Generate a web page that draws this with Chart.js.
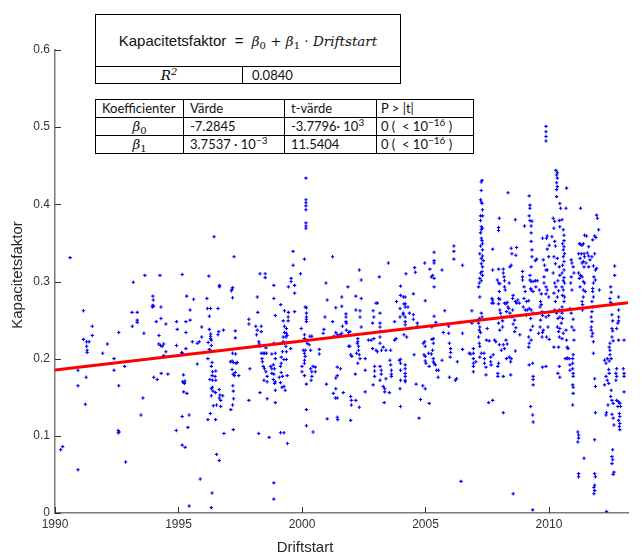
<!DOCTYPE html>
<html>
<head>
<meta charset="utf-8">
<script src="https://cdn.jsdelivr.net/npm/chart.js@4.4.1/dist/chart.umd.min.js"></script>
<style>
  body { margin: 0; background: #fff; }
  #wrap { position: relative; width: 642px; height: 556px; }
  #chart { position: absolute; left: 0; top: 0; }
  .box { position: absolute; background: #fff; border: 1px solid #000; box-sizing: border-box; }
  #eq { left: 95px; top: 14px; width: 306px; height: 70px; }
  #eq .top { height: 51px; display: flex; align-items: center; justify-content: center;
             font: 15px "Liberation Sans", Arial, sans-serif; color: #111; }
  #eq .bot { height: 17px; border-top: 1px solid #000; display: flex; }
  #eq .bot div { height: 17px; line-height: 17px; }
  .m { font-family: "DejaVu Serif", serif; font-style: italic; font-size: 13.5px; }
  .m sub { font-style: normal; font-size: 10px; vertical-align: -3px; line-height: 0; }
  .up { font-style: normal; }
  .cal { font: 13px Lato, "Open Sans", sans-serif; color: #111; }
  sup { font-size: 10px; vertical-align: 5px; line-height: 0; }
  #coef { position: absolute; left: 95px; top: 99px; border-collapse: collapse; background: #fff; }
  #coef td { border: 1px solid #000; height: 17px; padding: 0 0 0 6px; white-space: nowrap;
             font: 13px Lato, "Open Sans", sans-serif; color: #111; line-height: 17px; }
  #coef td.c { text-align: center; padding: 0; }
</style>
</head>
<body>
<div id="wrap">
  <canvas id="chart" width="642" height="556"></canvas>
  <div id="eq" class="box">
    <div class="top">Kapacitetsfaktor&nbsp;&nbsp;=&nbsp;&nbsp;<span class="m">β<sub>0</sub> <span class="up">+</span> β<sub>1</sub> <span class="up">·</span> Driftstart</span></div>
    <div class="bot">
      <div style="width:146px;border-right:1px solid #000;text-align:center" class="m">R<sup>2</sup></div>
      <div style="padding-left:9px" class="cal">0.0840</div>
    </div>
  </div>
  <table id="coef">
    <tr><td style="width:81px">Koefficienter</td><td style="width:94px">Värde</td><td style="width:85px">t-värde</td><td style="width:92px;padding-left:4px">P &gt; |t|</td></tr>
    <tr><td class="c"><span class="m">β<sub>0</sub></span></td><td>-7.2845</td><td>-3.7796· 10<sup>3</sup></td><td style="padding-left:4px">0 ( &nbsp;&lt; 10<sup>−16</sup> )</td></tr>
    <tr><td class="c"><span class="m">β<sub>1</sub></span></td><td>3.7537 · 10<sup>−3</sup></td><td>11.5404</td><td style="padding-left:4px">0 ( &nbsp;&lt; 10<sup>−16</sup> )</td></tr>
  </table>
</div>
<script>
// axis ticks
const xTicks = [1990, 1995, 2000, 2005, 2010];
const yTicks = [0, 0.1, 0.2, 0.3, 0.4, 0.5, 0.6];

// fitted line (ends of the red line)
const fitX = [1990, 2013.2];
const fitY = [0.1854, 0.2725];

// [Driftstart, Kapacitetsfaktor]
const early = [
  [1990.61,0.331],[1990.23,0.082],[1990.31,0.086],[1990.93,0.056],[1990.93,0.165],[1990.93,0.185],
  [1991.15,0.262],[1991.15,0.225],[1991.28,0.222],[1991.28,0.216],[1991.3,0.211],[1991.3,0.208],[1991.38,0.222],
  [1991.23,0.141],[1991.26,0.176],[1991.26,0.19],[1991.51,0.242],[1991.51,0.23],[1991.93,0.207],[1992.12,0.219],
  [1992.39,0.2],[1992.39,0.185],[1992.58,0.234],[1992.58,0.165],[1992.56,0.107],[1992.56,0.104],[1992.6,0.105],
  [1992.82,0.19],[1992.86,0.066],[1993.17,0.299],[1993.13,0.242],[1993.12,0.26],[1993.33,0.26],[1993.33,0.25],[1993.33,0.247],
  [1993.64,0.308],[1993.6,0.233],[1993.56,0.149],[1993.48,0.127],
  [1993.96,0.281],[1993.98,0.276],[1993.96,0.269],[1993.94,0.267],[1993.99,0.268],
  [1994.25,0.308],[1994.29,0.267],[1994.29,0.252],[1994.1,0.248],[1994.21,0.23],
  [1994.2,0.219],[1994.27,0.217],[1994.4,0.219],[1994.34,0.216],[1994.49,0.245],[1994.49,0.209],[1994.4,0.204],
  [1994.0,0.176],[1994.14,0.173],[1994.3,0.181],[1994.57,0.18],
  [1995.15,0.309],[1994.92,0.248],[1995.3,0.248],[1994.95,0.238],[1995.33,0.281],[1995.47,0.263],[1995.47,0.25],[1995.61,0.277],
  [1995.3,0.234],[1994.92,0.217],[1995.13,0.208],[1995.15,0.207],[1995.17,0.206],[1995.3,0.213],[1995.56,0.222],[1995.76,0.22],[1995.84,0.222],
  [1995.94,0.241],[1995.94,0.228],[1995.76,0.193],[1995.2,0.179],[1995.17,0.17],[1995.22,0.169],[1995.26,0.171],[1995.24,0.168],
  [1995.21,0.157],[1995.34,0.155],[1995.15,0.125],[1995.43,0.127],[1995.38,0.111],[1994.91,0.107],[1995.15,0.088],[1995.27,0.085],
  [1995.88,0.044],[1995.43,0.009],
  [1996.44,0.358],[1996.23,0.307],[1996.15,0.278],[1996.17,0.265],[1996.3,0.265],[1996.6,0.265],[1996.25,0.255],[1996.66,0.295],[1996.66,0.293],
  [1996.25,0.238],[1996.3,0.232],[1996.3,0.229],[1996.3,0.226],[1996.33,0.224],[1996.63,0.235],[1996.82,0.237],[1996.6,0.231],
  [1996.2,0.221],[1996.33,0.217],[1996.25,0.212],[1996.31,0.21],[1996.19,0.2],[1996.36,0.195],
  [1996.33,0.19],[1996.38,0.183],[1996.51,0.184],[1996.36,0.178],[1996.38,0.172],[1996.51,0.172],[1996.27,0.173],[1996.48,0.177],
  [1996.37,0.163],[1996.33,0.161],[1996.4,0.158],[1996.33,0.152],[1996.5,0.156],[1996.65,0.16],[1996.68,0.153],[1996.65,0.149],[1996.71,0.146],[1996.79,0.152],
  [1996.41,0.139],[1996.54,0.14],[1996.71,0.138],[1996.29,0.129],[1996.19,0.121],[1996.5,0.121],[1996.84,0.103],[1996.54,0.076],[1996.65,0.068],[1996.36,0.026],[1996.33,0.007],
  [1997.25,0.332],[1997.19,0.292],[1997.14,0.288],[1997.17,0.29],[1997.19,0.279],[1997.3,0.236],[1997.3,0.227],[1997.19,0.207],[1997.31,0.206],
  [1997.17,0.197],[1997.22,0.195],[1997.33,0.194],[1997.1,0.196],[1997.38,0.195],
  [1997.17,0.186],[1997.22,0.18],[1997.3,0.182],[1997.26,0.178],[1997.44,0.178],
  [1997.2,0.165],[1997.22,0.158],[1997.23,0.148],[1997.19,0.14],[1997.12,0.134],[1997.22,0.108],
  [1997.85,0.251],[1997.85,0.245],[1997.89,0.187],[1997.85,0.146]
];

const middle = [
  [1998.19,0.28],[1998.21,0.26],[1998.13,0.242],[1998.35,0.242],[1998.19,0.237],[1998.35,0.235],[1998.16,0.231],
  [1998.25,0.222],[1998.27,0.219],[1998.3,0.216],[1998.35,0.207],[1998.43,0.207],[1998.48,0.207],
  [1998.38,0.2],[1998.4,0.196],[1998.43,0.19],[1998.56,0.207],[1998.48,0.187],[1998.54,0.183],[1998.46,0.172],
  [1998.3,0.31],[1998.51,0.31],[1998.51,0.305],[1998.54,0.214],[1998.3,0.156],[1998.59,0.177],[1998.59,0.17],[1998.59,0.148],
  [1998.25,0.103],[1998.67,0.098],
  [1998.86,0.295],[1998.86,0.278],[1998.92,0.256],[1998.86,0.22],[1998.78,0.206],[1998.92,0.207],[1998.92,0.2],
  [1998.73,0.19],[1998.78,0.187],[1998.84,0.192],[1998.89,0.187],
  [1998.78,0.181],[1998.86,0.18],[1998.84,0.173],[1998.92,0.17],[1998.89,0.168],[1998.92,0.159],[1998.92,0.143],
  [1998.86,0.039],[1998.86,0.018],
  [1999.14,0.27],[1999.29,0.262],[1999.45,0.26],[1999.44,0.254],[1999.44,0.249],[1999.24,0.249],
  [1999.29,0.242],[1999.37,0.239],[1999.29,0.234],[1999.37,0.233],[1999.24,0.228],[1999.35,0.228],[1999.4,0.23],
  [1999.24,0.222],[1999.29,0.22],[1999.37,0.221],[1999.35,0.216],[1999.37,0.209],[1999.21,0.209],[1999.54,0.213],
  [1999.16,0.202],[1999.27,0.199],[1999.37,0.199],[1999.16,0.194],[1999.13,0.19],[1999.16,0.182],
  [1999.08,0.176],[1999.21,0.177],[1999.13,0.169],[1999.27,0.164],[1999.19,0.163],[1999.32,0.159],[1999.4,0.178],
  [1999.13,0.104],[1999.27,0.104],[1999.41,0.09],
  [1999.45,0.293],[1999.56,0.304],[1999.56,0.3],[1999.64,0.339],[1999.64,0.321],[1999.7,0.295],[1999.7,0.285],[1999.7,0.261],
  [1999.94,0.31],[1999.97,0.239],[2000.1,0.329],
  [2000.16,0.434],[2000.16,0.406],[2000.16,0.402],[2000.16,0.398],[2000.16,0.393],[2000.16,0.376],[2000.16,0.372],[2000.16,0.369],
  [2000.13,0.267],[2000.18,0.266],[2000.18,0.259],[2000.18,0.254],[2000.18,0.251],[2000.18,0.248],
  [2000.1,0.231],[2000.1,0.226],[2000.18,0.224],[2000.21,0.22],[2000.05,0.211],
  [2000.13,0.211],[2000.1,0.207],[2000.13,0.203],[2000.1,0.198],[2000.1,0.194],
  [2000.0,0.19],[2000.0,0.183],[2000.1,0.178],[2000.18,0.167],[2000.18,0.134],[2000.18,0.113],
  [2000.32,0.229],[2000.4,0.229],[2000.29,0.218],[2000.35,0.211],
  [2000.35,0.187],[2000.4,0.183],[2000.4,0.177],[2000.45,0.19],[2000.54,0.189],[2000.54,0.183],[2000.37,0.172],
  [2000.45,0.105],[2000.7,0.212],[2000.7,0.206],[2000.86,0.233],[2000.89,0.238],[2000.93,0.254],[2000.97,0.298],[2001.02,0.276],[2000.99,0.167],[2001.02,0.122],
  [2001.24,0.332],[2001.24,0.248],[2001.29,0.229],[2001.37,0.234],[2001.43,0.231],[2001.54,0.231],[2001.37,0.266],
  [2001.43,0.189],[2001.43,0.178],[2001.56,0.187],[2001.37,0.175],[2001.27,0.155],[2001.35,0.149],[2001.43,0.149],[2001.37,0.161],
  [2001.43,0.124],[2001.45,0.121],
  [2001.61,0.28],[2001.61,0.268],[2001.64,0.242],[2001.61,0.233],[2001.67,0.156],
  [2001.78,0.258],[2001.78,0.254],[2001.78,0.248],[2001.8,0.246],[2001.8,0.237],[2001.89,0.234],[2001.94,0.235],
  [2001.86,0.293],[2001.89,0.216],[2001.94,0.216],[2001.97,0.205],[2002.02,0.203],
  [2001.97,0.151],[2002.0,0.146],[2002.0,0.14],[2001.97,0.12],
  [2002.16,0.18],[2002.18,0.146],[2002.18,0.281],[2002.18,0.263],[2002.24,0.22],
  [2002.26,0.226],[2002.26,0.222],[2002.29,0.216],[2002.29,0.211],[2002.21,0.207],[2002.32,0.205],[2002.35,0.2],[2002.26,0.194],
  [2002.32,0.315],[2002.4,0.302],[2002.4,0.278],[2002.35,0.262],[2002.35,0.254],[2002.4,0.241],[2002.32,0.137],
  [2002.56,0.2],[2002.56,0.185],[2002.56,0.157],[2002.69,0.224],[2002.8,0.224],
  [2002.88,0.262],[2002.91,0.254],[2002.86,0.246],[2002.91,0.226],[2002.86,0.213],[2003.0,0.211],[2003.05,0.209],
  [2003.0,0.272],[2003.05,0.272],[2002.94,0.19],[2002.94,0.184],[2002.94,0.177],[2002.88,0.166],[2003.13,0.306],
  [2003.5,0.324],[2003.16,0.259],[2003.16,0.246],[2003.16,0.241],[2003.16,0.235],[2003.16,0.228],[2003.16,0.22],
  [2003.22,0.211],[2003.29,0.215],[2003.4,0.211],[2003.59,0.211],
  [2003.16,0.19],[2003.21,0.185],[2003.21,0.18],[2003.16,0.172],[2003.4,0.174],
  [2003.29,0.164],[2003.35,0.161],[2003.35,0.157],[2003.54,0.156],[2003.33,0.143],
  [2003.56,0.198],[2003.59,0.192],[2003.62,0.185],[2003.62,0.18],[2003.62,0.177],
  [2003.75,0.248],[2003.83,0.274],[2003.81,0.226],[2003.75,0.224],
  [2003.94,0.198],[2003.99,0.199],[2003.99,0.194],[2003.99,0.185],[2003.97,0.161],[2003.99,0.138],
  [2003.99,0.294],[2003.99,0.282],[2004.1,0.28],[2004.18,0.28],
  [2003.97,0.265],[2004.1,0.259],[2004.13,0.271],[2004.18,0.271],[2004.18,0.267],
  [2003.97,0.254],[2004.1,0.257],[2004.18,0.254],[2004.18,0.248],[2004.18,0.244],[2004.13,0.231],[2004.24,0.228],
  [2004.18,0.192],[2004.18,0.187],[2004.18,0.181],[2004.18,0.177],[2004.18,0.172],[2004.18,0.17],[2003.99,0.172],
  [2004.21,0.31],[2004.35,0.259],[2004.29,0.267],[2004.51,0.284],[2004.51,0.257],[2004.51,0.251],[2004.54,0.205],
  [2004.56,0.318],[2004.59,0.312],[2004.67,0.246],[2004.67,0.242],[2004.62,0.167],[2004.89,0.165],[2004.8,0.147],[2004.74,0.123],
  [2004.99,0.275],[2004.99,0.161],[2004.91,0.22],[2004.97,0.222],[2004.99,0.216],
  [2004.94,0.205],[2004.99,0.203],[2004.99,0.197],[2005.02,0.194],[2004.97,0.324],
  [2005.15,0.142],[2005.13,0.207],[2005.15,0.19],
  [2005.18,0.316],[2005.24,0.306],[2005.29,0.308],[2005.35,0.304],
  [2005.35,0.338],[2005.35,0.327],[2005.35,0.324],[2005.35,0.293],[2005.35,0.255],[2005.26,0.241],[2005.42,0.247],
  [2005.26,0.225],[2005.32,0.226],[2005.32,0.22],[2005.29,0.211],[2005.24,0.206],[2005.32,0.2],
  [2005.32,0.196],[2005.35,0.194],[2005.4,0.192],[2005.45,0.185],[2005.53,0.185],[2005.51,0.176],
  [2005.67,0.315],[2005.67,0.198],[2005.72,0.234],[2005.78,0.262],
  [2005.94,0.242],[2005.94,0.233],[2005.97,0.22],[2006.02,0.213],[2006.02,0.208],[2006.0,0.202],[2005.97,0.176],
  [2006.15,0.346],[2006.15,0.339],[2006.15,0.329],[2006.21,0.172],[2006.26,0.174],[2006.29,0.196],
  [2006.4,0.247],[2006.5,0.321],[2006.5,0.233],[2006.5,0.212],[2006.44,0.041],[2006.77,0.207],
  [2006.88,0.262],[2006.83,0.206],[2006.94,0.213],[2006.94,0.207],[2006.94,0.2],[2006.94,0.194],[2006.94,0.19],[2006.94,0.183],[2007.04,0.196],[2006.88,0.246]
];

const late = [
  [2007.29,0.431],[2007.26,0.429],[2007.26,0.418],[2007.23,0.406],[2007.26,0.403],[2007.29,0.401],[2007.31,0.393],[2007.23,0.385],[2007.31,0.385],[2007.23,0.379],
  [2007.26,0.371],[2007.31,0.369],[2007.26,0.367],[2007.23,0.363],[2007.26,0.356],[2007.29,0.353],[2007.31,0.349],[2007.23,0.346],
  [2007.31,0.341],[2007.2,0.336],[2007.31,0.333],[2007.26,0.33],[2007.34,0.327],[2007.26,0.323],[2007.31,0.319],
  [2007.29,0.313],[2007.23,0.311],[2007.31,0.308],[2007.2,0.304],[2007.26,0.301],[2007.18,0.298],[2007.15,0.293],[2007.2,0.28],
  [2007.18,0.252],[2007.15,0.246],[2007.2,0.241],[2007.18,0.237],[2007.15,0.228],[2007.23,0.234],[2007.18,0.22],[2007.29,0.254],[2007.26,0.259],
  [2007.2,0.216],[2007.26,0.207],[2007.2,0.202],
  [2007.37,0.207],[2007.39,0.2],[2007.39,0.194],[2007.45,0.189],[2007.45,0.179],
  [2007.5,0.239],[2007.47,0.224],[2007.58,0.223],[2007.64,0.202],[2007.64,0.196],[2007.74,0.205],[2007.66,0.192],
  [2007.72,0.315],[2007.72,0.342],[2007.69,0.278],[2007.72,0.276],[2007.69,0.272],[2007.75,0.272],[2007.8,0.224],[2007.85,0.222],
  [2007.56,0.143],[2007.72,0.146],
  [2007.93,0.19],[2007.93,0.181],[2007.93,0.177],[2007.96,0.194],
  [2007.99,0.382],[2007.96,0.37],[2007.96,0.366],[2007.91,0.302],[2007.96,0.298],[2008.01,0.297],[2007.96,0.316],[2008.15,0.316],
  [2007.99,0.287],[2007.96,0.278],[2008.01,0.277],[2007.96,0.271],[2008.01,0.263],[2008.04,0.259],[2008.07,0.254],[2008.12,0.249],[2008.12,0.241],
  [2007.96,0.246],[2008.01,0.237],[2007.99,0.218],[2008.07,0.211],[2008.15,0.218],[2008.2,0.213],[2008.26,0.224],[2008.31,0.219],
  [2008.15,0.177],[2008.28,0.2],[2008.39,0.202],[2008.47,0.2],[2008.45,0.196],
  [2008.15,0.311],[2008.18,0.306],[2008.2,0.301],[2008.2,0.293],[2008.23,0.289],
  [2008.2,0.272],[2008.26,0.271],[2008.31,0.273],[2008.34,0.267],[2008.37,0.265],[2008.28,0.261],[2008.42,0.259],
  [2008.15,0.13],[2008.34,0.415],[2008.42,0.319],[2008.39,0.298],[2008.47,0.343],[2008.5,0.336],[2008.47,0.321],
  [2008.55,0.282],[2008.53,0.278],[2008.64,0.274],[2008.53,0.263],[2008.5,0.254],[2008.61,0.25],[2008.66,0.24],[2008.61,0.235],[2008.55,0.245],
  [2008.64,0.38],[2008.69,0.344],[2008.66,0.334],[2008.69,0.272],[2008.74,0.276],[2008.8,0.272],[2008.64,0.21],[2008.45,0.179],[2008.55,0.025],
  [2008.82,0.231],[2008.93,0.313],[2008.93,0.306],[2008.93,0.302],
  [2008.99,0.293],[2009.04,0.287],[2008.99,0.278],[2009.09,0.274],[2008.96,0.267],[2009.18,0.275],[2009.04,0.263],
  [2009.01,0.372],[2009.12,0.263],[2009.2,0.265],[2009.09,0.256],
  [2009.2,0.411],[2009.23,0.399],[2009.23,0.395],[2009.2,0.385],[2009.23,0.379],[2009.31,0.378],
  [2009.28,0.372],[2009.28,0.363],[2009.28,0.352],[2009.31,0.341],[2009.31,0.332],[2009.28,0.319],
  [2009.23,0.308],[2009.23,0.302],[2009.28,0.3],[2009.36,0.3],[2009.26,0.291],[2009.28,0.289],[2009.36,0.287],
  [2009.28,0.263],[2009.36,0.259],[2009.26,0.252],[2009.34,0.242],[2009.26,0.237],[2009.18,0.228],[2009.2,0.22],[2009.18,0.215],[2009.28,0.224],
  [2009.2,0.192],[2009.34,0.194],[2009.36,0.177],[2009.36,0.173],[2009.36,0.166],[2009.26,0.138],[2009.34,0.127],[2009.36,0.118],[2009.34,0.004],
  [2009.45,0.301],[2009.53,0.301],[2009.47,0.293],[2009.45,0.327],[2009.5,0.329],
  [2009.61,0.289],[2009.69,0.284],[2009.66,0.274],[2009.69,0.27],[2009.64,0.267],[2009.72,0.261],[2009.74,0.256],[2009.66,0.25],[2009.64,0.241],[2009.74,0.234],[2009.77,0.237],[2009.58,0.233],[2009.72,0.228],
  [2009.74,0.356],[2009.9,0.356],[2009.93,0.359],[2009.77,0.328],[2009.82,0.321],[2009.88,0.315],[2009.93,0.315],
  [2009.8,0.306],[2009.8,0.298],[2009.88,0.293],[2009.93,0.289],[2009.88,0.284],[2009.99,0.28],
  [2009.74,0.189],[2009.88,0.19],[2009.93,0.342],[2010.01,0.347],[2009.99,0.332],
  [2009.88,0.254],[2009.99,0.256],[2009.96,0.241],[2009.9,0.228],[2010.01,0.225],
  [2009.88,0.501],[2009.88,0.494],[2009.88,0.488],[2009.88,0.482],
  [2010.28,0.444],[2010.34,0.441],[2010.31,0.438],[2010.34,0.434],[2010.31,0.428],[2010.34,0.423],[2010.31,0.419],[2010.31,0.41],
  [2010.44,0.401],[2010.47,0.395],[2010.71,0.421],[2010.69,0.395],[2011.28,0.395],
  [2010.17,0.382],[2010.12,0.358],[2010.2,0.369],[2010.23,0.378],
  [2010.42,0.379],[2010.53,0.38],[2010.44,0.371],[2010.58,0.367],[2010.61,0.36],[2010.61,0.353],[2010.55,0.349],[2010.61,0.345],[2010.58,0.341],[2010.63,0.336],
  [2010.58,0.332],[2010.61,0.326],[2010.55,0.321],[2010.61,0.315],[2010.53,0.311],[2010.61,0.305],[2010.58,0.301],[2010.63,0.298],[2010.53,0.293],[2010.58,0.289],
  [2010.55,0.282],[2010.63,0.28],[2010.61,0.274],[2010.53,0.267],[2010.44,0.262],[2010.53,0.259],[2010.44,0.254],[2010.55,0.252],[2010.5,0.246],[2010.44,0.239],
  [2010.58,0.233],[2010.42,0.228],[2010.53,0.226],
  [2010.23,0.352],[2010.26,0.346],[2010.2,0.332],[2010.26,0.323],[2010.17,0.311],[2010.23,0.298],[2010.28,0.293],[2010.2,0.285],[2010.26,0.274],[2010.23,0.263],[2010.31,0.259],
  [2010.34,0.33],[2010.42,0.319],[2010.44,0.308],[2010.36,0.301],[2010.39,0.288],[2010.34,0.28],[2010.42,0.263],[2010.36,0.252],[2010.34,0.241],[2010.39,0.235],
  [2010.2,0.215],[2010.39,0.215],[2010.42,0.19],[2010.36,0.181],[2010.44,0.176],
  [2010.69,0.237],[2010.71,0.224],[2010.74,0.215],[2010.77,0.213],[2010.74,0.2],
  [2010.66,0.2],[2010.74,0.201],[2010.82,0.2],[2010.85,0.192],[2010.85,0.185],
  [2010.9,0.328],[2010.93,0.324],[2010.98,0.319],[2011.01,0.311],[2010.9,0.306],[2010.88,0.298],[2010.93,0.289],[2010.85,0.265],[2010.9,0.259],[2010.98,0.251],
  [2010.93,0.241],[2011.01,0.237],[2011.01,0.224],[2010.98,0.205],[2010.96,0.2],
  [2010.96,0.194],[2010.96,0.187],[2010.98,0.181],[2010.98,0.177],[2010.96,0.166],[2010.98,0.163],[2010.98,0.155],[2010.96,0.14],
  [2011.17,0.105],[2011.2,0.101],[2011.2,0.097],[2011.17,0.092],[2011.2,0.051],[2011.2,0.047],[2011.42,0.071],
  [2011.23,0.349],[2011.28,0.348],[2011.34,0.347],[2011.39,0.349],
  [2011.2,0.336],[2011.31,0.336],[2011.26,0.33],[2011.34,0.324],[2011.42,0.336],[2011.44,0.332],[2011.39,0.326],[2011.5,0.324],[2011.42,0.319],
  [2011.2,0.311],[2011.28,0.308],[2011.34,0.306],[2011.23,0.304],[2011.39,0.3],[2011.44,0.298],[2011.26,0.293],[2011.39,0.289],[2011.47,0.287],
  [2011.39,0.28],[2011.34,0.274],[2011.36,0.27],[2011.36,0.263],
  [2011.44,0.36],[2011.52,0.359],
  [2011.61,0.345],[2011.55,0.337],[2011.61,0.333],[2011.66,0.328],[2011.61,0.319],
  [2011.77,0.354],[2011.85,0.359],[2011.9,0.357],
  [2011.74,0.332],[2011.85,0.336],[2011.8,0.32],[2011.88,0.315],[2011.93,0.317],[2011.82,0.306],[2011.88,0.302],[2011.8,0.298],[2011.77,0.291],[2011.77,0.287],
  [2011.8,0.28],[2011.74,0.274],[2011.77,0.267],[2011.74,0.261],[2011.71,0.254],[2011.74,0.248],[2011.71,0.241],[2011.71,0.237],[2011.77,0.233],[2011.74,0.229],
  [2011.8,0.222],[2011.8,0.207],
  [2011.93,0.386],[2011.96,0.382],[2012.01,0.367],[2012.04,0.289],
  [2011.85,0.174],[2011.88,0.164],[2011.88,0.13],[2011.85,0.095],
  [2011.85,0.051],[2011.88,0.047],[2011.85,0.036],[2011.82,0.033],[2011.85,0.029],[2011.82,0.025],
  [2012.33,0.002],
  [2012.66,0.32],[2012.66,0.308],
  [2012.5,0.293],[2012.52,0.286],[2012.47,0.278],[2012.5,0.273],[2012.52,0.27],
  [2012.82,0.28],[2012.82,0.263],[2012.82,0.254],[2012.82,0.249],[2012.79,0.246],
  [2012.55,0.257],[2012.58,0.249],[2012.55,0.239],[2012.58,0.236],[2012.55,0.228],[2012.6,0.223],
  [2012.47,0.22],[2012.44,0.215],[2012.47,0.211],[2012.47,0.205],[2012.52,0.2],[2012.44,0.197],[2012.36,0.2],[2012.25,0.198],[2012.31,0.194],[2012.42,0.186],[2012.44,0.181],
  [2012.74,0.239],[2012.82,0.224],[2013.04,0.224],
  [2012.31,0.177],[2012.36,0.172],[2012.25,0.166],[2012.42,0.168],
  [2012.52,0.159],[2012.5,0.151],[2012.55,0.146],[2012.6,0.142],[2012.74,0.146],[2012.82,0.144],[2012.79,0.138],[2012.87,0.142],[2012.9,0.138],
  [2012.39,0.14],[2012.33,0.13],[2012.31,0.127],[2012.55,0.128],[2012.6,0.123],[2012.63,0.114],
  [2012.85,0.129],[2012.87,0.125],[2012.82,0.12],[2012.87,0.116],[2012.85,0.112],[2012.87,0.108],
  [2012.74,0.187],[2012.71,0.181],[2012.74,0.177],[2012.71,0.172],
  [2013.01,0.187],[2013.04,0.181],[2013.04,0.177],[2013.04,0.157],
  [2012.58,0.082],[2012.55,0.073],[2012.58,0.069],[2012.55,0.064],[2012.63,0.053],[2012.6,0.05]
];

const points = [...early, ...middle, ...late].map(([x, y]) => ({ x, y }));
const fitLine = fitX.map((x, i) => ({ x, y: fitY[i] }));

const tickFont = { family: '"Liberation Sans", Arial, sans-serif', size: 12 };
const tickColor = '#333';

// inward tick marks and axis titles, MATLAB style
const axisDecor = {
  id: 'axisDecor',
  afterDraw(chart) {
    const { ctx, chartArea: a, scales: { x, y } } = chart;
    ctx.save();
    ctx.strokeStyle = '#333';
    ctx.lineWidth = 1;
    ctx.beginPath();
    xTicks.forEach(v => {
      const px = Math.round(x.getPixelForValue(v)) + 0.5;
      ctx.moveTo(px, a.bottom);
      ctx.lineTo(px, a.bottom - 6);
    });
    yTicks.forEach(v => {
      const py = Math.round(y.getPixelForValue(v)) + 0.5;
      ctx.moveTo(a.left, py);
      ctx.lineTo(a.left + 6, py);
    });
    ctx.stroke();

    ctx.fillStyle = '#262626';
    ctx.font = '15px "Liberation Sans", Arial, sans-serif';
    ctx.textAlign = 'center';
    ctx.textBaseline = 'middle';
    ctx.fillText('Driftstart', 305, 548);
    ctx.translate(18, 275);
    ctx.rotate(-Math.PI / 2);
    ctx.fillText('Kapacitetsfaktor', 0, 0);
    ctx.restore();
  }
};

new Chart(document.getElementById('chart'), {
  type: 'scatter',
  data: {
    datasets: [
      {
        type: 'line',
        data: fitLine,
        borderColor: '#ff0000',
        borderWidth: 3,
        pointRadius: 0,
        fill: false,
        order: 0
      },
      {
        data: points,
        pointStyle: 'cross',
        pointRadius: 1.7,
        borderWidth: 1.1,
        borderColor: '#0000ff',
        backgroundColor: '#0000ff',
        order: 1
      }
    ]
  },
  options: {
    responsive: false,
    animation: false,
    layout: { padding: { left: 0, right: 14, top: 50, bottom: 0 } },
    plugins: { legend: { display: false }, tooltip: { enabled: false } },
    scales: {
      x: {
        type: 'linear',
        min: 1990,
        max: 2013.2,
        afterBuildTicks: s => { s.ticks = xTicks.map(value => ({ value })); },
        afterFit: s => { s.height = 43; },
        grid: { display: false, drawTicks: false },
        border: { color: '#7a7a7a', width: 1.5 },
        ticks: { font: tickFont, color: tickColor, padding: 4, maxRotation: 0, callback: v => String(v) }
      },
      y: {
        min: 0,
        max: 0.6,
        afterBuildTicks: s => { s.ticks = yTicks.map(value => ({ value })); },
        afterFit: s => { s.width = 55; },
        grid: { display: false, drawTicks: false },
        border: { color: '#7a7a7a', width: 1.5 },
        ticks: { font: tickFont, color: tickColor, padding: 5, callback: v => String(v) }
      }
    }
  },
  plugins: [axisDecor]
});
</script>
</body>
</html>
